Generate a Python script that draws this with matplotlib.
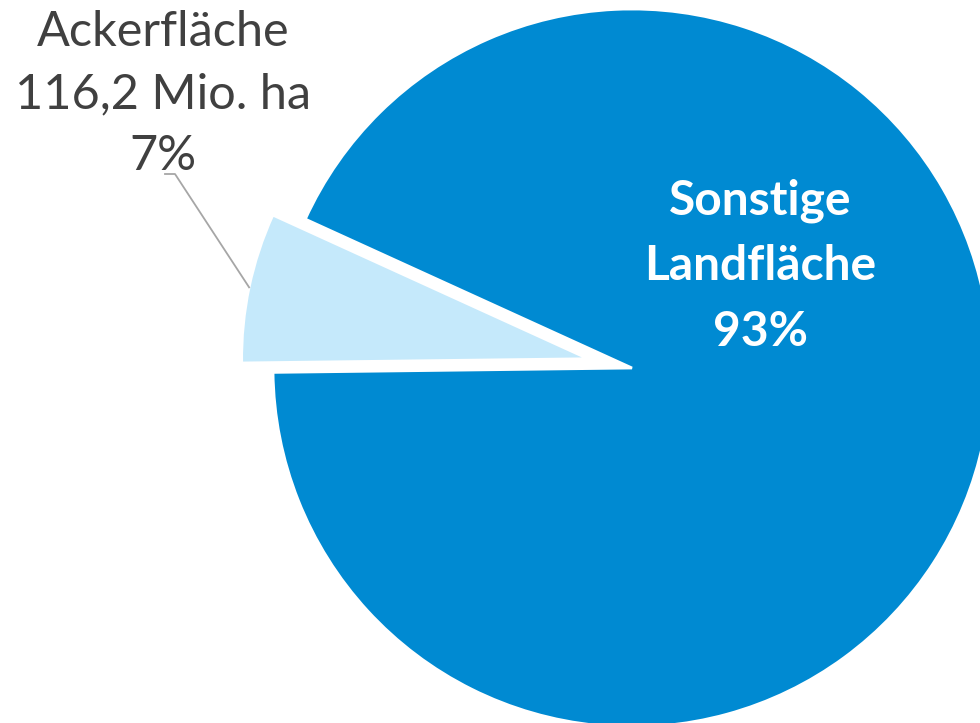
import numpy as np
import matplotlib.pyplot as plt

labels = ["Ackerfläche\n116,2 Mio. ha\n7%", "Sonstige\nLandfläche\n93%"]
shares = [7, 93]
colors = ["#C5E9FB", "#008AD2"]

# pixel <-> data helpers (pie radius = 1, centre at px 632/368, r = 359 px)
CX, CY, R = 632, 368, 359


def px(x, y):
    return (x - CX) / R, (CY - y) / R


def main():
    fig = plt.figure(figsize=(9.8, 7.23), dpi=100)
    ax = fig.add_axes([0, 0, 1, 1])

    wedges, _ = ax.pie(shares, colors=colors, startangle=180.7, counterclock=False,
                       explode=[0.125, 0], radius=1,
                       wedgeprops=dict(edgecolor="white", linewidth=2))
    wedges[0].set_radius(0.965)

    ax.set_xlim(px(0, 0)[0], px(980, 0)[0])
    ax.set_ylim(px(0, 723)[1], px(0, 0)[1])
    ax.set_aspect("auto")
    ax.axis("off")

    # Ackerfläche label with leader line
    lx, ly = px(163, 94)
    ax.text(lx, ly, labels[0], ha="center", va="center", fontsize=35,
            family="Lato", color="#404040", linespacing=1.5)
    w = wedges[0]
    mid = np.deg2rad((w.theta1 + w.theta2) / 2)
    ex = w.center[0] + w.r * np.cos(mid)
    ey = w.center[1] + w.r * np.sin(mid)
    sx, sy = px(165, 174)
    kx, ky = px(175, 174)
    ax.plot([sx, kx, ex], [sy, ky, ey], color="#A6A6A6", linewidth=1.3)

    # Sonstige label inside the big slice
    tx, ty = px(760, 266)
    ax.text(tx, ty, labels[1], ha="center", va="center", fontsize=34.5,
            family="Lato", fontweight="bold", color="white", linespacing=1.6)

    plt.savefig("out.png", dpi=100)


if __name__ == "__main__":
    main()
